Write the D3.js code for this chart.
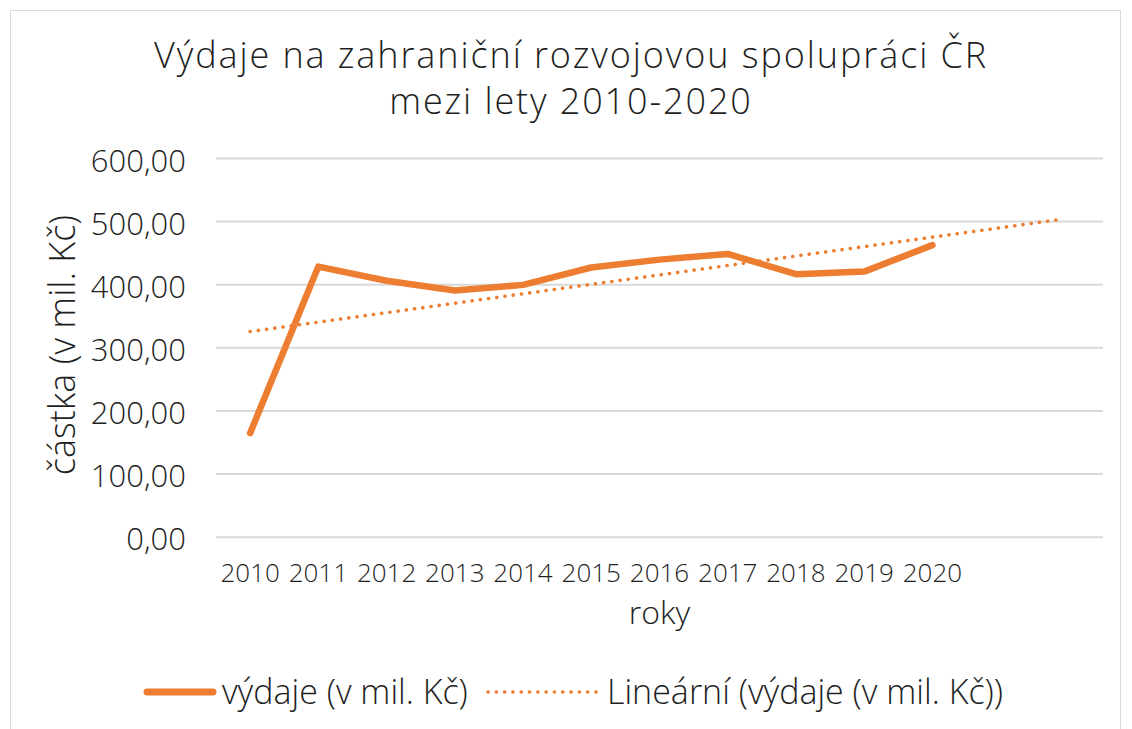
<!DOCTYPE html>
<html><head><meta charset="utf-8">
<script src="https://cdn.jsdelivr.net/npm/d3@7"></script>
<style>
html,body{margin:0;padding:0;background:#fff;}
text{font-family:"Open Sans",sans-serif;fill:#1f1f1f;}
</style></head>
<body><svg id="c" width="1132" height="729"></svg>
<script>
const years = ["2010","2011","2012","2013","2014","2015","2016","2017","2018","2019","2020"];
const values = [164, 428, 405.5, 390, 399, 426.5, 439, 448, 416, 420, 462];
const extraSlots = ["2021","2022"];
const yTicks = [0,100,200,300,400,500,600];
const trendForward = 1.87;
const titleLines = ["Výdaje na zahraniční rozvojovou spolupráci ČR","mezi lety 2010-2020"];
const yTitle = "částka (v mil. Kč)";
const xTitle = "roky";
const legendLabels = ["výdaje (v mil. Kč)","Lineární (výdaje (v mil. Kč))"];

const orange = "#ED7D31";
const svg = d3.select("#c");
svg.append("rect").attr("x",10.5).attr("y",10.5).attr("width",1110).attr("height",730)
  .attr("fill","#fff").attr("stroke","#D9D9D9");

const L=216, R=1103, T=158, B=536.7;
const x = d3.scaleBand().domain(years.concat(extraSlots)).range([L,R]);
const y = d3.scaleLinear().domain([0,600]).range([B,T]);
const xc = i => L + (i+0.5)*x.step();

// gridlines + y ticks
const yAxis = d3.axisLeft(y).tickValues(yTicks).tickSize(-(R-L)).tickPadding(30)
  .tickFormat(d => d3.format(".2f")(d).replace(".",","));
const gy = svg.append("g").attr("transform",`translate(${L},0)`).call(yAxis);
gy.select(".domain").remove();
gy.selectAll(".tick line").attr("stroke","#D9D9D9").attr("stroke-width",2);
gy.selectAll(".tick text").attr("font-size",31).attr("font-weight",300).attr("fill","#1f1f1f")
  .attr("dy","0.42em");

const xAxis = d3.axisBottom(x).tickValues(years).tickSize(0).tickPadding(0);
const gx = svg.append("g").attr("transform",`translate(0,${B})`).call(xAxis);
gx.select(".domain").remove();
gx.selectAll(".tick text").attr("font-size",26).attr("font-weight",300).attr("fill","#1f1f1f")
  .attr("y",45).attr("dy",0);

// trendline (least squares)
const n = values.length;
const mx = d3.mean(values,(d,i)=>i), my = d3.mean(values);
const slope = d3.sum(values,(d,i)=>(i-mx)*(d-my))/d3.sum(values,(d,i)=>(i-mx)*(i-mx));
const icpt = my - slope*mx;
const tEnd = n-1+trendForward;
svg.append("line").attr("x1",xc(0)).attr("y1",y(icpt))
  .attr("x2",xc(tEnd)).attr("y2",y(icpt+slope*tEnd))
  .attr("stroke",orange).attr("stroke-width",3.6).attr("stroke-linecap","round")
  .attr("stroke-dasharray","0.1 8.2");

const line = d3.line().x((d,i)=>xc(i)).y(d=>y(d));
svg.append("path").datum(values).attr("d",line).attr("fill","none")
  .attr("stroke",orange).attr("stroke-width",6.5).attr("stroke-linecap","round").attr("stroke-linejoin","round");

// titles
const tt = svg.append("text").attr("text-anchor","middle").attr("font-size",36).attr("font-weight",300)
  .attr("letter-spacing",1.9);
titleLines.forEach((t,i)=>tt.append("tspan").attr("x",571).attr("y",68+i*46).text(t));

svg.append("text").attr("transform","translate(75,345) rotate(-90)").attr("text-anchor","middle")
  .attr("font-size",36).attr("font-weight",300).text(yTitle);
svg.append("text").attr("x",(L+R)/2).attr("y",624).attr("text-anchor","middle")
  .attr("font-size",32).attr("font-weight",300).text(xTitle);

// legend
const lg = svg.append("g");
lg.append("line").attr("x1",147).attr("x2",213).attr("y1",692).attr("y2",692)
  .attr("stroke",orange).attr("stroke-width",7).attr("stroke-linecap","round");
lg.append("text").attr("x",222).attr("y",704).attr("font-size",34).attr("font-weight",300).text(legendLabels[0]);
lg.append("line").attr("x1",488).attr("x2",600).attr("y1",692).attr("y2",692)
  .attr("stroke",orange).attr("stroke-width",3.6).attr("stroke-linecap","round").attr("stroke-dasharray","0.1 8.2");
lg.append("text").attr("x",607).attr("y",704).attr("font-size",34).attr("font-weight",300).text(legendLabels[1]);
</script></body></html>
